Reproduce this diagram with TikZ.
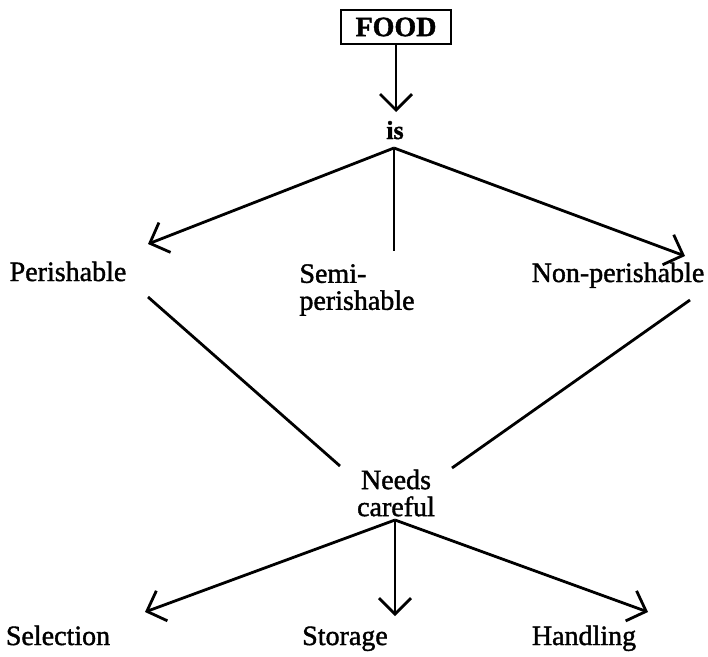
\documentclass[tikz,border=0pt]{standalone}
\usepackage{fontspec}
\setmainfont{Liberation Serif}[RawFeature={embolden=1.4}]
\usetikzlibrary{arrows.meta}
\begin{document}
\begin{tikzpicture}[x=1pt,y=-1pt,
  lbl/.style={font=\fontsize{28}{27}\selectfont, inner sep=0pt, align=center},
  conn/.style={line width=2.8pt},
  arr/.style={conn, -{Straight Barb[length=16pt,width=32pt,line width=2.8pt]}},
  boxed/.style={draw, line width=2pt, minimum width=110pt, minimum height=34pt, inner sep=0pt, font=\fontsize{28}{29}\selectfont\bfseries}]
\useasboundingbox (0,0) rectangle (708,656);
\node[boxed] (food) at (396,27) {FOOD};
\node[lbl, font=\fontsize{26}{27}\selectfont\bfseries, anchor=base] (is) at (395,139) {is};
\node[lbl, anchor=base] (per) at (68,281) {Perishable};
\node[lbl, align=left] (semi) at (357,290) {Semi-\\perishable};
\node[lbl, anchor=base] (non) at (618,282) {Non-perishable};
\node[lbl] (needs) at (396,493) {Needs\\careful};
\node[lbl, anchor=base] (sel) at (58,645) {Selection};
\node[lbl, anchor=base] (sto) at (345,645) {Storage};
\node[lbl, anchor=base] (han) at (584,645) {Handling};
\coordinate (isb) at (394,148);
\coordinate (pin) at (148,244);
\coordinate (sin) at (394,251);
\coordinate (nin) at (685,256);
\coordinate (fin) at (396,112);
\coordinate (pout) at (148,297);
\coordinate (nout) at (690,300);
\coordinate (cl) at (340,466);
\coordinate (cr) at (452,468);
\coordinate (cb) at (395,520);
\coordinate (selin) at (145,612);
\coordinate (stoin) at (395,616);
\coordinate (hanin) at (648,612);
\draw[arr] (food.south) -- (fin);
\draw[arr] (isb) -- (pin);
\draw[conn] (isb) -- (sin);
\draw[arr] (isb) -- (nin);
\draw[conn] (pout) -- (cl);
\draw[conn] (nout) -- (cr);
\draw[arr] (cb) -- (selin);
\draw[arr] (cb) -- (stoin);
\draw[arr] (cb) -- (hanin);
\end{tikzpicture}
\end{document}
